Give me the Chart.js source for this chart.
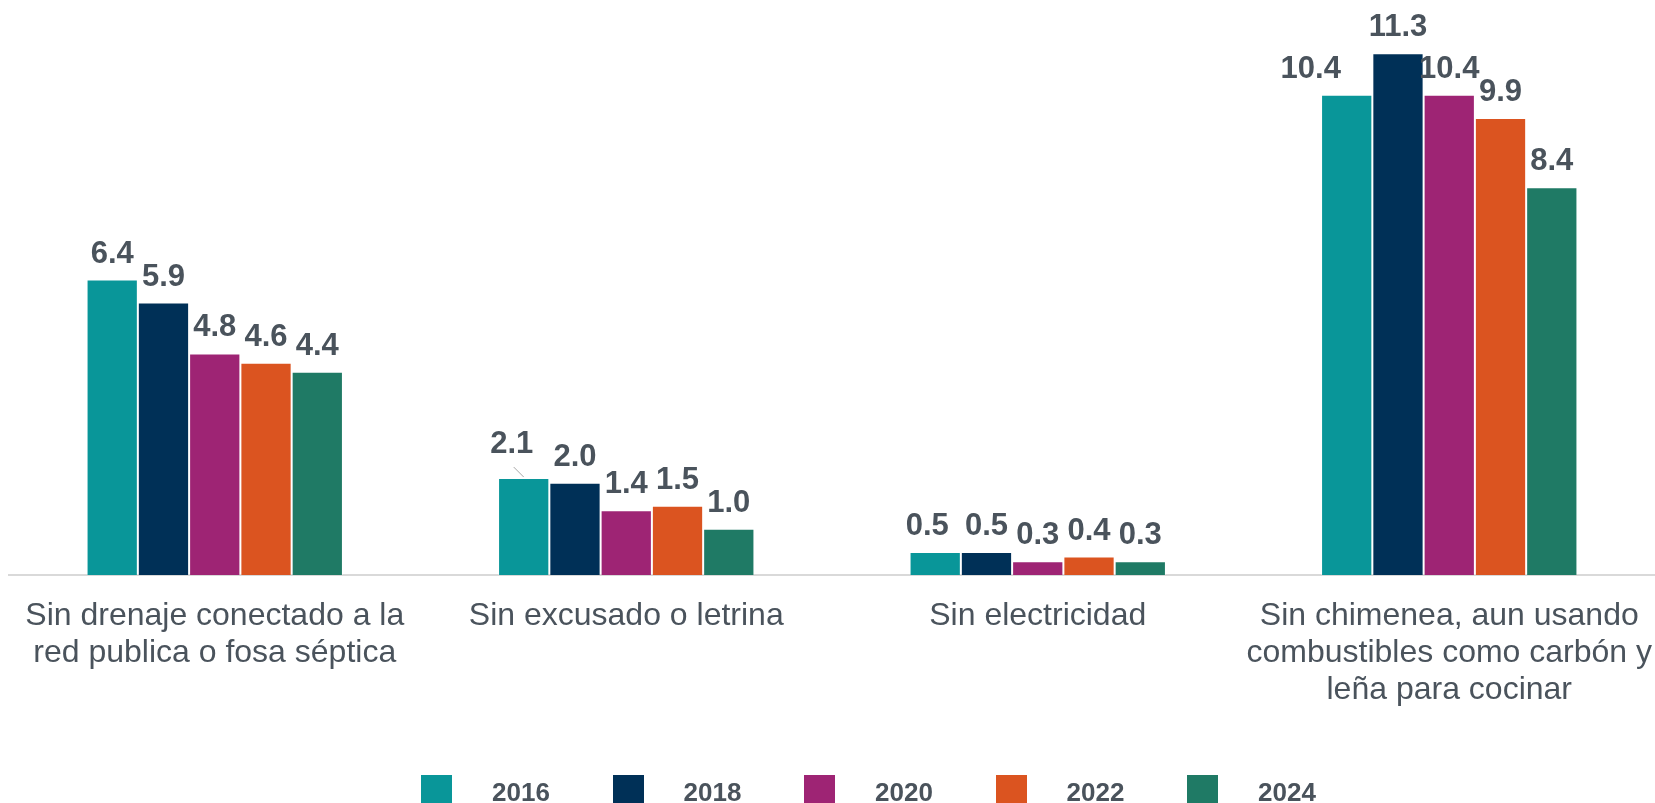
<!DOCTYPE html>
<html>
<head>
<meta charset="utf-8">
<script src="https://cdn.jsdelivr.net/npm/chart.js@4/dist/chart.umd.min.js"></script>
<style>
    html, body { margin: 0; padding: 0; background: #fff; overflow: hidden; }
    #wrap { position: relative; width: 1655px; height: 803px; }
    #legend { position: absolute; left: 0; top: 775px; width: 1655px; height: 40px; }
    .item { position: absolute; top: 0; height: 40px; }
    .item .box { position: absolute; left: 0; top: 0; width: 31px; height: 31px; }
    .item .txt {
        position: absolute; left: 71px; top: 4px;
        font: bold 26px "Liberation Sans", Arial, sans-serif; line-height: 26px;
        color: #4a535c; white-space: nowrap;
    }
</style>
</head>
<body>
<div id="wrap">
    <canvas id="chart" width="1655" height="803"></canvas>
    <div id="legend"></div>
</div>
<script>
///////////////////////////
// DATA
///////////////////////////

const categories = [
    ["Sin drenaje conectado a la", "red publica o fosa séptica"],
    ["Sin excusado o letrina"],
    ["Sin electricidad"],
    ["Sin chimenea, aun usando", "combustibles como carbón y", "leña para cocinar"]
];

const years = ["2016", "2018", "2020", "2022", "2024"];

const values2016 = [6.4, 2.1, 0.5, 10.4];
const values2018 = [5.9, 2.0, 0.5, 11.3];
const values2020 = [4.8, 1.4, 0.3, 10.4];
const values2022 = [4.6, 1.5, 0.4, 9.9];
const values2024 = [4.4, 1.0, 0.3, 8.4];

const colors = ["#099699", "#003057", "#9e2474", "#db5420", "#1f7a65"];

const TEXT = "#4a535c";

///////////////////////////
// LABELS ABOVE BARS
///////////////////////////

// a few labels were moved by hand in the original, keyed "dataset-index"
const nudges = {
    "0-1": { dx: -12, dy: -8, leader: true },
    "0-3": { dx: -36, dy: 0 },
    "0-2": { dx: -8, dy: 0 }
};

const barLabels = {
    id: "barLabels",
    afterDatasetsDraw(chart) {
        const ctx = chart.ctx;
        ctx.save();
        ctx.font = "bold 31px 'Liberation Sans', Arial, sans-serif";
        ctx.fillStyle = TEXT;
        ctx.textAlign = "center";
        ctx.textBaseline = "alphabetic";
        chart.data.datasets.forEach((ds, di) => {
            const meta = chart.getDatasetMeta(di);
            meta.data.forEach((bar, i) => {
                const n = nudges[di + "-" + i] || { dx: 0, dy: 0 };
                const x = bar.x + n.dx;
                const y = bar.y - 17 + n.dy;
                if (n.leader) {
                    ctx.strokeStyle = "#a6a6a6";
                    ctx.lineWidth = 1;
                    ctx.beginPath();
                    ctx.moveTo(bar.x - 10, bar.y - 11);
                    ctx.lineTo(bar.x, bar.y - 1);
                    ctx.stroke();
                }
                ctx.fillText(ds.data[i].toFixed(1), x, y);
            });
        });
        ctx.restore();
    }
};

///////////////////////////
// CHART
///////////////////////////

const seriesValues = [values2016, values2018, values2020, values2022, values2024];

const datasets = years.map((y, k) => ({
    label: y,
    data: seriesValues[k],
    backgroundColor: colors[k],
    borderColor: "rgba(255,255,255,0.35)",
    borderWidth: 1,
    barPercentage: 1,
    categoryPercentage: 0.623
}));

new Chart(document.getElementById("chart"), {
    type: "bar",
    data: { labels: categories, datasets: datasets },
    plugins: [barLabels],
    options: {
        responsive: false,
        animation: false,
        devicePixelRatio: 1,
        layout: { padding: { top: 21, left: 9, right: 0, bottom: 0 } },
        plugins: {
            legend: { display: false },
            tooltip: { enabled: false }
        },
        scales: {
            x: {
                grid: { display: false },
                border: { display: true, color: "#d9d9d9", width: 2 },
                ticks: {
                    autoSkip: false,
                    maxRotation: 0,
                    minRotation: 0,
                    padding: 15,
                    color: TEXT,
                    font: { family: "'Liberation Sans', Arial, sans-serif", size: 32, lineHeight: 1.156 }
                },
                afterFit(axis) {
                    // keep the plot full width, long end labels may overhang
                    axis.height = 228;
                    axis.paddingLeft = 0;
                    axis.paddingRight = 0;
                }
            },
            y: {
                display: false,
                min: 0,
                max: 12
            }
        }
    }
});

///////////////////////////
// LEGEND
///////////////////////////

const legend = document.getElementById("legend");
years.forEach((y, k) => {
    const item = document.createElement("div");
    item.className = "item";
    item.style.left = (421 + k * 191.5) + "px";
    item.innerHTML = `<div class="box" style="background:${colors[k]}"></div><div class="txt">${y}</div>`;
    legend.appendChild(item);
});
</script>
</body>
</html>
